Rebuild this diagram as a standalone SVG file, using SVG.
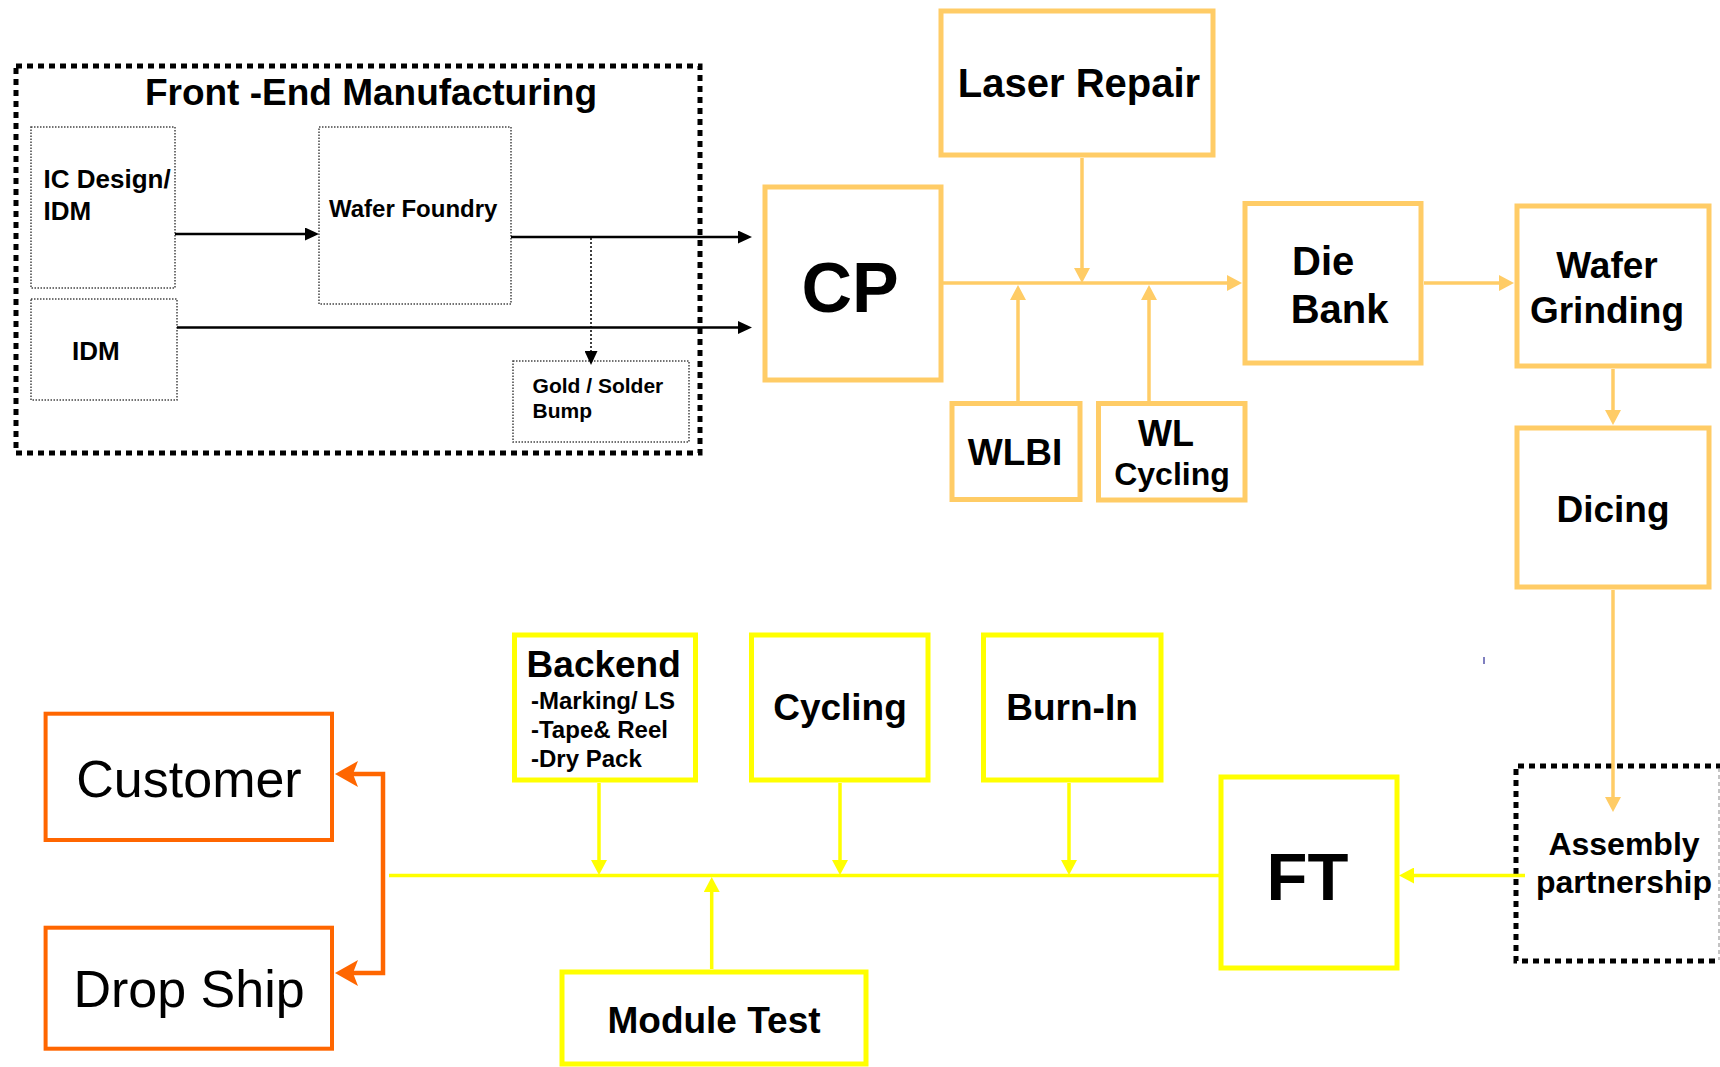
<svg xmlns="http://www.w3.org/2000/svg" width="1720" height="1067" viewBox="0 0 1720 1067">
<style>
text{font-family:"Liberation Sans",Arial,sans-serif;fill:#000}
.b{font-weight:bold}
.m{text-anchor:middle}
.thin{fill:#fff;stroke:#444;stroke-width:1.5;stroke-dasharray:1.5 1.5}
.lo{fill:#fff;stroke:#FFCC66;stroke-width:5}
.ye{fill:#fff;stroke:#FFFF00;stroke-width:5}
.or{fill:#fff;stroke:#FF6600;stroke-width:4}
.cb{fill:none;stroke:#000;stroke-width:2.5}
.clo{fill:none;stroke:#FFCC66;stroke-width:3.5}
.cye{fill:none;stroke:#FFFF00;stroke-width:3.5}
.cor{fill:none;stroke:#FF6600;stroke-width:4.5}
</style>
<defs>
<marker id="ab" markerUnits="userSpaceOnUse" viewBox="0 0 14 13" markerWidth="14" markerHeight="13" refX="10" refY="6.5" orient="auto"><path d="M0,0 L14,6.5 L0,13 Z" fill="#000"/></marker>
<marker id="alo" markerUnits="userSpaceOnUse" viewBox="0 0 15 16" markerWidth="15" markerHeight="16" refX="11" refY="8" orient="auto"><path d="M0,0 L15,8 L0,16 Z" fill="#FFCC66"/></marker>
<marker id="aye" markerUnits="userSpaceOnUse" viewBox="0 0 15 16" markerWidth="15" markerHeight="16" refX="11" refY="8" orient="auto"><path d="M0,0 L15,8 L0,16 Z" fill="#FFFF00"/></marker>
<marker id="aor" markerUnits="userSpaceOnUse" viewBox="0 0 23 26" markerWidth="23" markerHeight="26" refX="6" refY="13" orient="auto"><path d="M0,0 L23,13 L0,26 L5,13 Z" fill="#FF6600"/></marker>
</defs>
<rect width="1720" height="1067" fill="#fff"/>

<g id="frontend">
<rect x="16" y="66" width="684" height="387" fill="none" stroke="#000" stroke-width="5" stroke-dasharray="6 5"/>
<text class="b m" x="371" y="105" font-size="37">Front -End Manufacturing</text>
</g>
<g id="icdesign"><rect class="thin" x="31" y="127" width="144" height="161"/>
<text class="b" x="43.6" y="188" font-size="26">IC Design/</text><text class="b" x="43.6" y="220" font-size="26">IDM</text></g>
<g id="waferfoundry"><rect class="thin" x="319" y="127" width="192" height="177"/>
<text class="b" x="329" y="217" font-size="24">Wafer Foundry</text></g>
<g id="idm"><rect class="thin" x="31" y="299" width="146" height="101"/>
<text class="b" x="72" y="360" font-size="26">IDM</text></g>
<g id="gold"><rect class="thin" x="513" y="361" width="176" height="81"/>
<text class="b" x="532.6" y="393" font-size="21">Gold / Solder</text><text class="b" x="532.6" y="418" font-size="21">Bump</text></g>

<g id="laser"><rect class="lo" x="941" y="11" width="272" height="144"/><text class="b m" x="1079" y="97" font-size="40">Laser Repair</text></g>
<g id="cp"><rect class="lo" x="765" y="187" width="176" height="193"/><text class="b m" x="850" y="312" font-size="70">CP</text></g>
<g id="wlbi"><rect class="lo" x="952" y="403.5" width="128" height="96"/><text class="b m" x="1015" y="465" font-size="37">WLBI</text></g>
<g id="wlcycling"><rect class="lo" x="1098.5" y="403.5" width="146.5" height="96.5"/><text class="b m" x="1166" y="446" font-size="36">WL</text><text class="b m" x="1172" y="485" font-size="32">Cycling</text></g>
<g id="diebank"><rect class="lo" x="1245" y="203.5" width="176" height="159.5"/><text class="b" x="1292" y="275" font-size="40">Die</text><text class="b" x="1290.7" y="322.7" font-size="40">Bank</text></g>
<g id="wafergrinding"><rect class="lo" x="1517" y="206" width="192" height="160"/><text class="b m" x="1607" y="278" font-size="37">Wafer</text><text class="b m" x="1607" y="323" font-size="37">Grinding</text></g>
<g id="dicing"><rect class="lo" x="1517" y="428" width="192" height="159"/><text class="b m" x="1613" y="522" font-size="37">Dicing</text></g>
<g id="assembly">
<path d="M1722,766 H1516 V961 H1722" fill="none" stroke="#000" stroke-width="5" stroke-dasharray="6 5"/>
<line x1="1719" y1="768" x2="1719" y2="960" stroke="#888" stroke-width="1" stroke-dasharray="4 3"/>
<text class="b m" x="1624" y="855" font-size="32">Assembly</text><text class="b m" x="1624" y="893" font-size="32">partnership</text></g>
<g id="ft"><rect class="ye" x="1221" y="777" width="176" height="191"/><text class="b m" x="1307.5" y="900" font-size="67">FT</text></g>
<g id="backend"><rect class="ye" x="514.5" y="635" width="181" height="145"/>
<text class="b" x="526.6" y="677" font-size="37">Backend</text>
<text class="b" x="531" y="709" font-size="24">-Marking/ LS</text>
<text class="b" x="531" y="738" font-size="24">-Tape&amp; Reel</text>
<text class="b" x="531" y="767" font-size="24">-Dry Pack</text></g>
<g id="cycling"><rect class="ye" x="751.5" y="635" width="176.5" height="145"/><text class="b m" x="840" y="720" font-size="37">Cycling</text></g>
<g id="burnin"><rect class="ye" x="983.5" y="635" width="177.5" height="145"/><text class="b m" x="1072" y="720" font-size="37">Burn-In</text></g>
<g id="moduletest"><rect class="ye" x="562" y="972" width="304" height="92"/><text class="b m" x="714" y="1033" font-size="37">Module Test</text></g>
<g id="customer"><rect class="or" x="45.6" y="713.7" width="286.4" height="126.3"/><text class="m" x="189" y="797" font-size="52">Customer</text></g>
<g id="dropship"><rect class="or" x="45.6" y="927.7" width="286.4" height="121"/><text class="m" x="189" y="1007" font-size="52">Drop Ship</text></g>

<g id="connectors">
<line class="cb" x1="175" y1="234" x2="315" y2="234" marker-end="url(#ab)"/>
<line class="cb" x1="511" y1="237" x2="748" y2="237" marker-end="url(#ab)"/>
<line class="cb" x1="177" y1="327.5" x2="748" y2="327.5" marker-end="url(#ab)"/>
<line x1="591" y1="238" x2="591" y2="361" fill="none" stroke="#000" stroke-width="1.5" stroke-dasharray="2 2" marker-end="url(#ab)"/>

<line class="clo" x1="943" y1="283" x2="1238" y2="283" marker-end="url(#alo)"/>
<line class="clo" x1="1082" y1="158" x2="1082" y2="279" marker-end="url(#alo)"/>
<line class="clo" x1="1018" y1="401" x2="1018" y2="289" marker-end="url(#alo)"/>
<line class="clo" x1="1149" y1="401" x2="1149" y2="289" marker-end="url(#alo)"/>
<line class="clo" x1="1424" y1="283" x2="1510" y2="283" marker-end="url(#alo)"/>
<line class="clo" x1="1613" y1="369" x2="1613" y2="421" marker-end="url(#alo)"/>
<line class="clo" x1="1613" y1="590" x2="1613" y2="808" marker-end="url(#alo)"/>

<line class="cye" x1="389" y1="875.5" x2="1219" y2="875.5"/>
<line class="cye" x1="1525" y1="875.5" x2="1403" y2="875.5" marker-end="url(#aye)"/>
<line class="cye" x1="599" y1="783" x2="599" y2="871" marker-end="url(#aye)"/>
<line class="cye" x1="840" y1="783" x2="840" y2="871" marker-end="url(#aye)"/>
<line class="cye" x1="1069" y1="783" x2="1069" y2="871" marker-end="url(#aye)"/>
<line class="cye" x1="711.7" y1="969" x2="711.7" y2="881" marker-end="url(#aye)"/>

<path class="cor" d="M383,874 V774 H352" marker-end="url(#aor)"/>
<path class="cor" d="M383,874 V973 H352" marker-end="url(#aor)"/>
</g>
<line x1="1484" y1="657" x2="1484" y2="664" stroke="#000080" stroke-width="1"/>
</svg>
